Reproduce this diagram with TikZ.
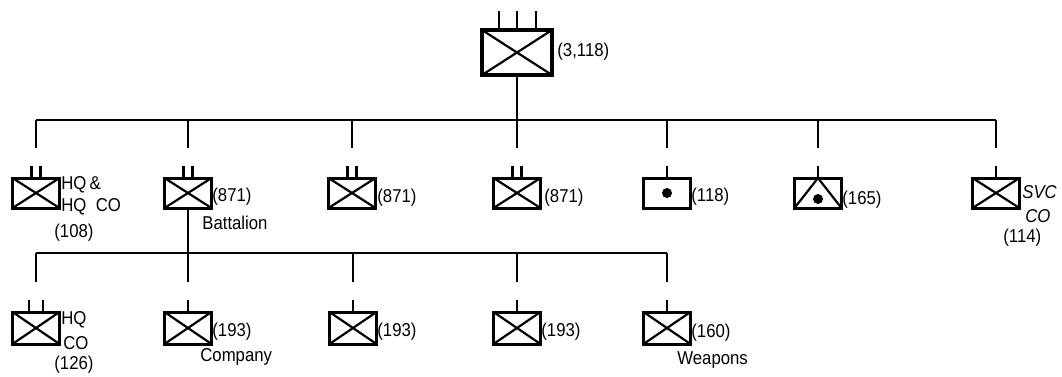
\documentclass[tikz,border=0pt]{standalone}
\usepackage{fontspec}
\setmainfont{Liberation Sans}[FakeStretch=0.9]
\usepackage{tikz}

\tikzset{
  unit/.style={draw, line width=1.5pt, inner sep=0pt, minimum width=23.5pt, minimum height=15pt},
  inf/.style={unit, path picture={\draw[line width=1.1pt]
      (path picture bounding box.north west) -- (path picture bounding box.south east)
      (path picture bounding box.south west) -- (path picture bounding box.north east);}},
  cbt/.style={unit, path picture={\fill (path picture bounding box.center) circle (2.5pt);}},
  fa/.style={unit, path picture={\draw[line width=1.1pt]
      (path picture bounding box.south west) -- (path picture bounding box.north)
      -- (path picture bounding box.south east);
      \fill ([yshift=-3pt]path picture bounding box.center) circle (2.5pt);}},
  lbl/.style={anchor=west, inner sep=0pt, font=\fontsize{9.3}{11}\selectfont},
  org/.style={line width=1.15pt},
}

\begin{document}
\begin{tikzpicture}[x=0.5pt,y=-0.5pt]
	\useasboundingbox (0,0) rectangle (1062,376);

	% Nodes
	\node[inf, minimum width=35pt, minimum height=22.5pt, line width=1.7pt] (top) at (517,52.5) {};
	\node[lbl] (topn) at (557,52) {(3,118)};

	\node[inf] (hq) at (36,193) {};
	\node[inf] (bn1) at (188,193) {};
	\node[inf] (bn2) at (352,193) {};
	\node[inf] (bn3) at (517,193) {};
	\node[cbt] (tank) at (667,193) {};
	\node[fa] (art) at (818,193) {};
	\node[inf] (svc) at (996,193) {};

	\node[inf, minimum height=16pt] (hqc) at (36,328) {};
	\node[inf, minimum height=16pt] (c1) at (188,328) {};
	\node[inf, minimum height=16pt] (c2) at (353,328) {};
	\node[inf, minimum height=16pt] (c3) at (517,328) {};
	\node[inf, minimum height=16pt] (wpn) at (667,328) {};

	% Labels
	\node[lbl] (hqa) at (61,185) {HQ\,\&};
	\node[lbl] (hqb) at (61,207) {HQ\ \ CO};
	\node[lbl] (hqn) at (54,233) {(108)};
	\node[lbl] (bn1n) at (212,197) {(871)};
	\node[lbl] (bn1t) at (202,223) {Battalion};
	\node[lbl] (bn2n) at (377,198) {(871)};
	\node[lbl] (bn3n) at (544,198) {(871)};
	\node[lbl] (tankn) at (691,197) {(118)};
	\node[lbl] (artn) at (842,200) {(165)};
	\node[lbl] (svca) at (1022,192) {\itshape SVC};
	\node[lbl] (svcb) at (1025,216) {\itshape CO};
	\node[lbl] (svcn) at (1003,238) {(114)};

	\node[lbl] (hqca) at (61,320) {HQ};
	\node[lbl] (hqcb) at (63,343) {CO};
	\node[lbl] (hqcn) at (54,365) {(126)};
	\node[lbl] (c1n) at (212,332) {(193)};
	\node[lbl] (c1t) at (200,357) {Company};
	\node[lbl] (c2n) at (377,332) {(193)};
	\node[lbl] (c3n) at (541,332) {(193)};
	\node[lbl] (wpnn) at (691,333) {(160)};
	\node[lbl] (wpnt) at (677,360) {Weapons};

	% Echelon ticks
	\draw[org] ([xshift=-9pt]top.north) -- ++(0,-17);
	\draw[org] (top.north) -- ++(0,-17);
	\draw[org] ([xshift=9.5pt]top.north) -- ++(0,-17);
	\draw[org] ([xshift=-2.25pt]hq.north) -- ++(0,-11);
	\draw[org] ([xshift=2.25pt]hq.north) -- ++(0,-11);
	\draw[org] ([xshift=-2.25pt]bn1.north) -- ++(0,-11);
	\draw[org] ([xshift=2.25pt]bn1.north) -- ++(0,-11);
	\draw[org] ([xshift=-2.25pt]bn2.north) -- ++(0,-11);
	\draw[org] ([xshift=2.25pt]bn2.north) -- ++(0,-11);
	\draw[org] ([xshift=-2.25pt]bn3.north) -- ++(0,-11);
	\draw[org] ([xshift=2.25pt]bn3.north) -- ++(0,-11);
	\draw[org] (tank.north) -- ++(0,-11);
	\draw[org] (art.north) -- ++(0,-11);
	\draw[org] (svc.north) -- ++(0,-11);
	\draw[org] ([xshift=-3.5pt]hqc.north) -- ++(0,-11);
	\draw[org] ([xshift=3.5pt]hqc.north) -- ++(0,-11);
	\draw[org] (c1.north) -- ++(0,-11);
	\draw[org] (c2.north) -- ++(0,-11);
	\draw[org] (c3.north) -- ++(0,-11);
	\draw[org] (wpn.north) -- ++(0,-11);

	% Lines
	\coordinate (busL) at (36,120);
	\coordinate (busR) at (996,120);
	\draw[org] (busL) -- (busR);
	\draw[org] (top.south) -- (top.south |- busL);
	\draw[org] (hq |- busL) -- ++(0,28);
	\draw[org] (bn1 |- busL) -- ++(0,28);
	\draw[org] (bn2 |- busL) -- ++(0,28);
	\draw[org] (bn3 |- busL) -- ++(0,28);
	\draw[org] (tank |- busL) -- ++(0,28);
	\draw[org] (art |- busL) -- ++(0,28);
	\draw[org] (svc |- busL) -- ++(0,28);

	\coordinate (bus3L) at (36,253);
	\coordinate (bus3R) at (667,253);
	\draw[org] (bus3L) -- (bus3R);
	\draw[org] (bn1.south) -- (bn1.south |- bus3L);
	\draw[org] (hqc |- bus3L) -- ++(0,29);
	\draw[org] (c1 |- bus3L) -- ++(0,29);
	\draw[org] (c2 |- bus3L) -- ++(0,29);
	\draw[org] (c3 |- bus3L) -- ++(0,29);
	\draw[org] (wpn |- bus3L) -- ++(0,29);
\end{tikzpicture}
\end{document}
